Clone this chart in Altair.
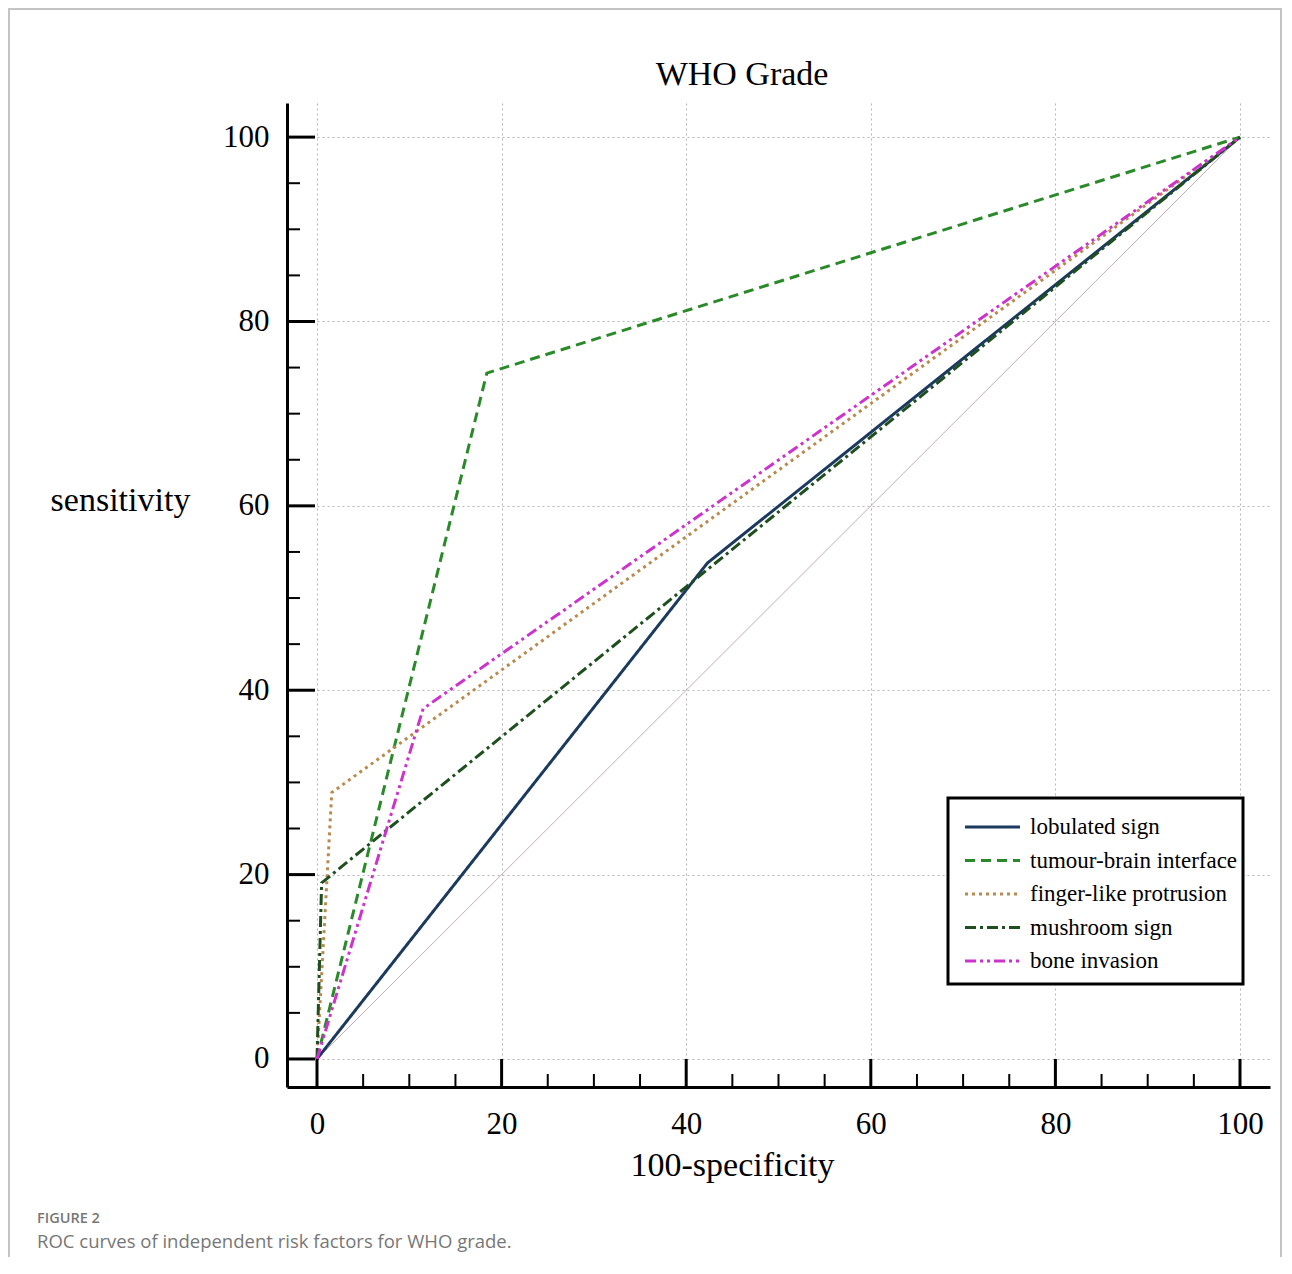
import altair as alt
import pandas as pd

# ---- data ----
series_names = ["lobulated sign", "tumour-brain interface", "finger-like protrusion",
                "mushroom sign", "bone invasion"]
lobulated_x = [0, 42.3, 100]
lobulated_y = [0, 53.8, 100]
tumour_x = [0, 18.4, 100]
tumour_y = [0, 74.4, 100]
finger_x = [0, 1.6, 100]
finger_y = [0, 28.9, 100]
mushroom_x = [0, 0.5, 100]
mushroom_y = [0, 19.1, 100]
bone_x = [0, 11.5, 100]
bone_y = [0, 38.0, 100]
diag_x = [0, 100]
diag_y = [0, 100]

major_ticks = [0, 20, 40, 60, 80, 100]
minor_ticks = [v for v in range(5, 100, 5) if v % 20 != 0]

title_text = "WHO Grade"
x_title = "100-specificity"
y_title = "sensitivity"
caption_label = "FIGURE 2"
caption_text = "ROC curves of independent risk factors for WHO grade."

# ---- styles ----
colors = ["#1b3a5e", "#2a8a2a", "#b98a4e", "#1f4f1f", "#cc33cc"]
dashes = [[1, 0], [10, 6], [3, 4], [11, 4, 3, 4], [11, 4, 3, 4, 3, 4]]
SERIF = "Liberation Serif"
W, H = 983, 984

xs = [lobulated_x, tumour_x, finger_x, mushroom_x, bone_x]
ys = [lobulated_y, tumour_y, finger_y, mushroom_y, bone_y]
rows = []
for name, xx, yy in zip(series_names, xs, ys):
    for i, (a, b) in enumerate(zip(xx, yy)):
        rows.append({"series": name, "x": a, "y": b, "o": i})
df = pd.DataFrame(rows)

xscale = alt.Scale(domain=[-3.25, 103.25], nice=False, zero=False)
yscale = alt.Scale(domain=[-3.04, 103.7], nice=False, zero=False)

xaxis = alt.Axis(values=major_ticks, ticks=False, domainColor="black", domainWidth=3,
                 labelFont=SERIF, labelFontSize=31, labelColor="black", labelPadding=22,
                 grid=True, gridDash=[2, 3], gridColor="#b5b5b5", gridWidth=1,
                 title=x_title, titleFont=SERIF, titleFontSize=34, titleFontWeight="normal",
                 titleColor="black", titleX=445, titleY=78, titleAlign="center",
                 titleBaseline="middle")
yaxis = alt.Axis(values=major_ticks, ticks=False, domainColor="black", domainWidth=3,
                 labelFont=SERIF, labelFontSize=31, labelColor="black", labelPadding=18,
                 grid=True, gridDash=[2, 3], gridColor="#b5b5b5", gridWidth=1,
                 title=y_title, titleFont=SERIF, titleFontSize=34, titleFontWeight="normal",
                 titleColor="black", titleAngle=0, titleX=-167, titleY=397,
                 titleAlign="center", titleBaseline="middle")


def X(field):
    return alt.X(field, scale=xscale, axis=xaxis, title=x_title)


def Y(field):
    return alt.Y(field, scale=yscale, axis=yaxis, title=y_title)


diag = alt.Chart(pd.DataFrame({"x": diag_x, "y": diag_y})).mark_line(
    color="#c9a9b9", strokeWidth=1
).encode(x=X("x:Q"), y=Y("y:Q"))

lines = alt.Chart(df).mark_line(strokeWidth=3).encode(
    x=X("x:Q"),
    y=Y("y:Q"),
    color=alt.Color("series:N", scale=alt.Scale(domain=series_names, range=colors), legend=None),
    strokeDash=alt.StrokeDash("series:N", scale=alt.Scale(domain=series_names, range=dashes), legend=None),
    order="o:Q",
    detail="series:N",
)

ymaj = alt.Chart(pd.DataFrame({"y": major_ticks})).mark_rule(color="black", strokeWidth=3).encode(
    y=Y("y:Q"), x=alt.value(0), x2=alt.value(28))
ymin = alt.Chart(pd.DataFrame({"y": minor_ticks})).mark_rule(color="black", strokeWidth=2).encode(
    y=Y("y:Q"), x=alt.value(0), x2=alt.value(13))
xmaj = alt.Chart(pd.DataFrame({"x": major_ticks})).mark_rule(color="black", strokeWidth=3).encode(
    x=X("x:Q"), y=alt.value(H), y2=alt.value(H - 28))
xmin = alt.Chart(pd.DataFrame({"x": minor_ticks})).mark_rule(color="black", strokeWidth=2).encode(
    x=X("x:Q"), y=alt.value(H), y2=alt.value(H - 13))

one = pd.DataFrame({"k": [0]})

# legend (manual)
legend_box = alt.Chart(one).mark_rect(fill="white", stroke="black", strokeWidth=3).encode(
    x=alt.value(661), x2=alt.value(956), y=alt.value(695), y2=alt.value(881))
legend_layers = [legend_box]
for i, name in enumerate(series_names):
    yc = 724 + i * 33.5
    legend_layers.append(
        alt.Chart(one).mark_rule(color=colors[i], strokeWidth=3, strokeDash=dashes[i]).encode(
            x=alt.value(678), x2=alt.value(733), y=alt.value(yc)))
    legend_layers.append(
        alt.Chart(pd.DataFrame({"t": [name]})).mark_text(
            font=SERIF, fontSize=23, color="black", align="left", baseline="middle").encode(
            text="t:N", x=alt.value(743), y=alt.value(yc)))

title = alt.Chart(pd.DataFrame({"t": [title_text]})).mark_text(
    font=SERIF, fontSize=34, color="black", align="center", baseline="middle").encode(
    text="t:N", x=alt.value(455), y=alt.value(-28))

cap1 = alt.Chart(pd.DataFrame({"t": [caption_label]})).mark_text(
    font="Open Sans", fontSize=14.5, fontWeight=600, color="#777777", align="left",
    baseline="middle").encode(text="t:N", x=alt.value(-250), y=alt.value(1116))
cap2 = alt.Chart(pd.DataFrame({"t": [caption_text]})).mark_text(
    font="Open Sans", fontSize=18.5, color="#777777", align="left",
    baseline="middle").encode(text="t:N", x=alt.value(-250), y=alt.value(1139))

frame = alt.Chart(one).mark_rect(fill=None, stroke="#c4c4c4", strokeWidth=2).encode(
    x=alt.value(-278), x2=alt.value(994), y=alt.value(-94), y2=alt.value(1200))

chart = alt.layer(
    frame, diag, lines, ymaj, ymin, xmaj, xmin, *legend_layers, title, cap1, cap2
).properties(
    width=W, height=H,
    autosize=alt.AutoSizeParams(type="none"),
    padding={"left": 279, "top": 95, "right": 12, "bottom": 170},
).configure(background="white").configure_view(stroke=None)

chart.save("out.html", embed_options={"renderer": "svg", "actions": False})
